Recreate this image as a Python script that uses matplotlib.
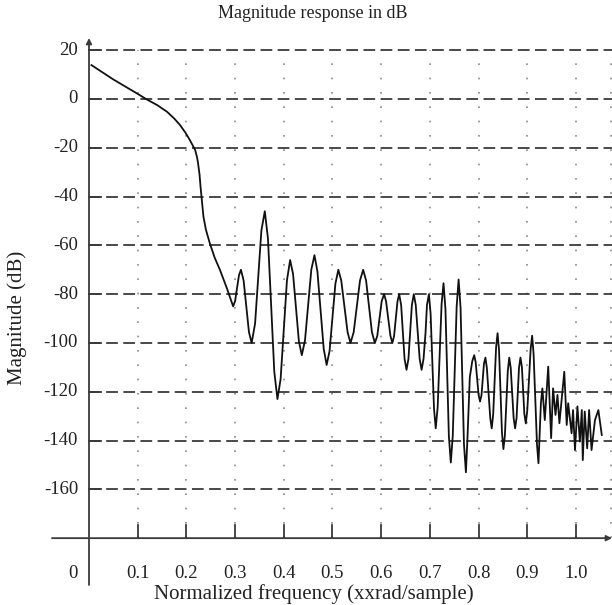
import matplotlib
matplotlib.use("Agg")
import matplotlib.pyplot as plt

plt.rcParams['font.family'] = ['Liberation Serif', 'DejaVu Serif']

# ---- data ----
freq = [0.005, 0.05, 0.10, 0.118, 0.140, 0.160, 0.175, 0.187, 0.198, 0.207, 0.213, 0.218,
        0.222, 0.224, 0.227, 0.229, 0.231, 0.233, 0.235, 0.240, 0.248, 0.258, 0.269, 0.283,
        0.296, 0.300, 0.308, 0.312, 0.3175, 0.3285, 0.334, 0.341, 0.354, 0.361, 0.3675, 0.3805,
        0.387, 0.3935, 0.4065, 0.413, 0.419, 0.431, 0.437, 0.4435, 0.4565, 0.463, 0.469, 0.482,
        0.488, 0.494, 0.506, 0.512, 0.518, 0.531, 0.537, 0.5435, 0.5565, 0.563, 0.569, 0.581,
        0.587, 0.592, 0.601, 0.606, 0.610, 0.619, 0.623, 0.6265, 0.630, 0.6335, 0.637, 0.641,
        0.648, 0.652, 0.656, 0.663, 0.667, 0.671, 0.679, 0.683, 0.687, 0.691, 0.694, 0.698,
        0.7015, 0.7085, 0.712, 0.716, 0.724, 0.728, 0.732, 0.739, 0.743, 0.747, 0.755, 0.759,
        0.763, 0.770, 0.774, 0.777, 0.782, 0.787, 0.791, 0.794, 0.800, 0.803, 0.806, 0.811,
        0.814, 0.817, 0.824, 0.827, 0.830, 0.836, 0.839, 0.842, 0.848, 0.851, 0.854, 0.860,
        0.863, 0.866, 0.872, 0.875, 0.878, 0.883, 0.886, 0.889, 0.894, 0.897, 0.900, 0.907,
        0.910, 0.913, 0.920, 0.923, 0.928, 0.931, 0.936, 0.943, 0.949, 0.953, 0.958, 0.962,
        0.966, 0.976, 0.981, 0.984, 0.991, 0.994, 0.998, 1.003, 1.008, 1.012, 1.014, 1.018,
        1.023, 1.027, 1.032, 1.039, 1.046, 1.053]
mag_db = [13.9, 8.0, 2.1, -0.1, -2.5, -5.2, -8.0, -10.7, -13.8, -16.8, -19.0, -20.9,
          -24.0, -26.4, -31.0, -35.9, -40.0, -44.5, -48.2, -53.5, -59.1, -65.0, -70.1, -77.5,
          -85.0, -82.8, -72.2, -70.0, -74.4, -95.6, -100.0, -92.1, -53.9, -46.0, -57.2, -111.8,
          -123.0, -114.7, -74.3, -66.0, -71.7, -99.3, -105.0, -99.0, -70.0, -64.0, -70.6, -102.4,
          -109.0, -103.3, -75.7, -70.0, -74.4, -95.6, -100.0, -95.6, -74.4, -70.0, -74.4, -95.6,
          -100.0, -97.1, -82.9, -80.0, -82.9, -97.1, -100.0, -97.1, -90.0, -82.9, -80.0, -84.5,
          -106.5, -111.0, -106.5, -84.5, -80.0, -84.5, -106.5, -111.0, -106.5, -96.0, -84.5, -80.0,
          -88.0, -127.0, -135.0, -126.3, -84.2, -75.5, -86.2, -138.3, -149.0, -138.0, -85.0, -74.0,
          -85.5, -141.5, -153.0, -140.0, -114.0, -107.5, -105.0, -107.8, -121.2, -124.0, -121.4, -108.6,
          -106.0, -110.2, -130.8, -135.0, -129.3, -101.7, -96.0, -102.9, -136.6, -143.5, -138.0, -111.5,
          -106.0, -110.2, -130.8, -135.0, -130.8, -110.2, -106.0, -109.9, -129.1, -133.0, -127.7, -102.3,
          -97.0, -104.6, -141.7, -149.3, -124.7, -118.6, -131.6, -109.7, -139.0, -118.6, -129.5, -121.3,
          -132.9, -111.8, -133.6, -124.7, -137.0, -127.5, -143.9, -126.0, -140.4, -127.5, -148.0, -128.1,
          -143.2, -127.5, -143.9, -131.6, -127.5, -137.7]

y_ticks = [20, 0, -20, -40, -60, -80, -100, -120, -140, -160]
y_tick_labels = ['20', '0', '-20', '-40', '-60', '-80', '-100', '-120', '-140', '-160']
x_ticks = [0.1, 0.2, 0.3, 0.4, 0.5, 0.6, 0.7, 0.8, 0.9, 1.0]
x_tick_labels = ['0.1', '0.2', '0.3', '0.4', '0.5', '0.6', '0.7', '0.8', '0.9', '1.0']

title = 'Magnitude response in dB'
xlabel = 'Normalized frequency (xxrad/sample)'
ylabel = 'Magnitude (dB)'

# ---- figure ----
W, H = 612, 605
fig = plt.figure(figsize=(W / 100, H / 100), dpi=100)
ax = fig.add_axes([52 / W, (H - 585) / H, 560 / W, 547 / H])
x_min, x_max = -0.076, 1.074
y_min, y_max = -199.2, 25.0
y_axis_pos = -180
ax.set_xlim(x_min, x_max)
ax.set_ylim(y_min, y_max)
for s in ax.spines.values():
    s.set_visible(False)
ax.set_xticks([])
ax.set_yticks([])

axis_col = '#3a3a3a'
text_col = '#222222'
# dotted vertical grid
for xv in x_ticks + [1.072]:
    ax.plot([xv, xv], [y_axis_pos, 20], color='#8a8a8a', lw=1.2,
            linestyle=(0, (1.0, 7.6)), zorder=1)
# dashed horizontal grid + tick marks
for yv, lab in zip(y_ticks, y_tick_labels):
    ax.plot([0, x_max], [yv, yv], color=axis_col, lw=1.3,
            linestyle=(0, (6.5, 3.0)), zorder=1)
    ax.plot([0, 0.025], [yv, yv], color=axis_col, lw=1.3, zorder=2)
    ax.text(-0.0226, yv, lab, ha='right', va='center', fontsize=13.5, color=text_col)
# x tick marks & labels
for xv, lab in zip(x_ticks, x_tick_labels):
    ax.plot([xv, xv], [y_axis_pos, y_axis_pos + 5.3], color=axis_col, lw=1.3, zorder=2)
    ax.text(xv, -194.3, lab, ha='center', va='center', fontsize=13.5, color=text_col)
ax.text(-0.033, -194.3, '0', ha='center', va='center', fontsize=13.5, color=text_col)

# axes with arrows
ax.annotate('', xy=(0, y_max), xytext=(0, y_min),
            arrowprops=dict(arrowstyle='-|>', lw=1.3, color=axis_col, mutation_scale=8,
                            shrinkA=0, shrinkB=0), annotation_clip=False)
ax.annotate('', xy=(x_max, y_axis_pos), xytext=(x_min, y_axis_pos),
            arrowprops=dict(arrowstyle='-|>', lw=1.3, color=axis_col, mutation_scale=8,
                            shrinkA=0, shrinkB=0), annotation_clip=False)

# curve
ax.plot(freq, mag_db, color='#111111', lw=1.3, zorder=3, clip_on=False)

fig.text(313 / W, 1 - 14 / H, title, ha='center', va='center', fontsize=13, color=text_col)
fig.text(314 / W, 1 - 594 / H, xlabel, ha='center', va='center', fontsize=15, color=text_col)
fig.text(17 / W, 1 - 318 / H, ylabel, ha='center', va='center', rotation=90, fontsize=15,
         color=text_col)

fig.savefig('out.png', dpi=100)
